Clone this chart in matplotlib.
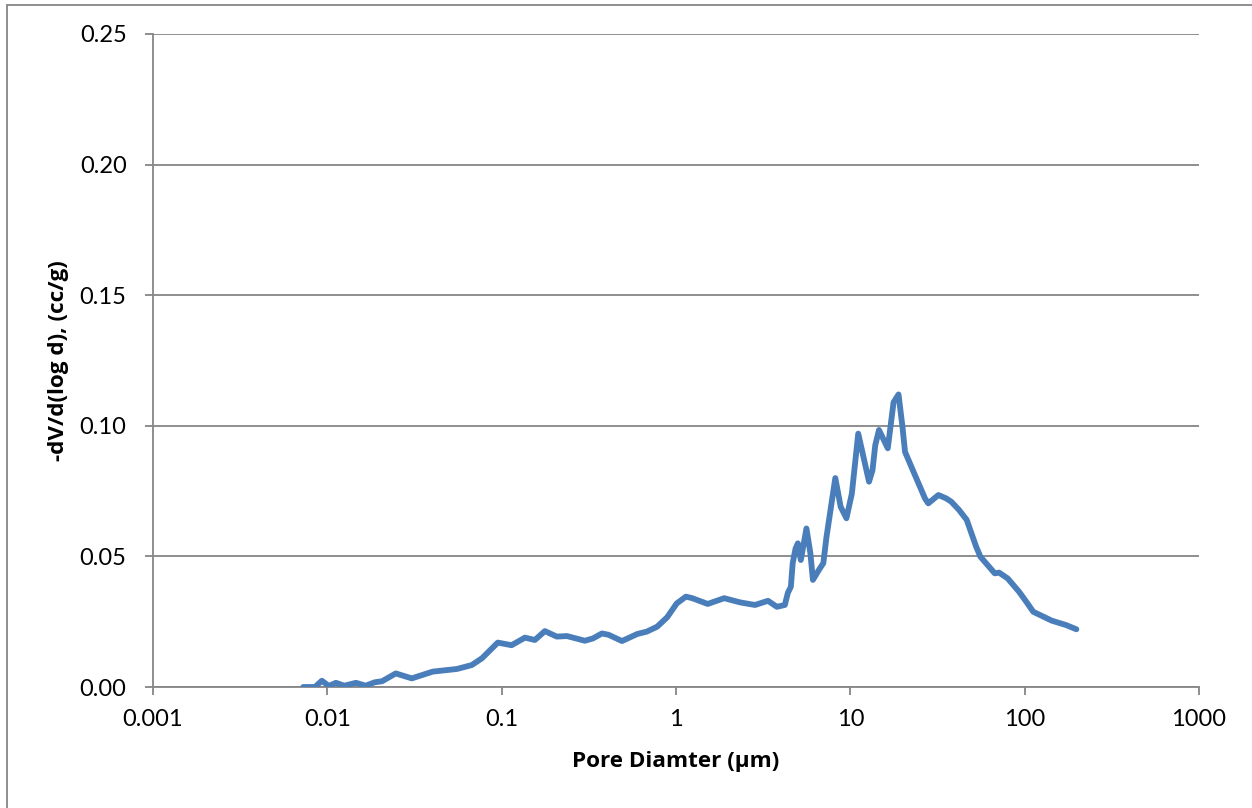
import numpy as np
import matplotlib.pyplot as plt
from matplotlib.patches import Rectangle

plt.rcParams['font.family'] = ['Lato', 'DejaVu Sans']

# pore diameter (um) and -dV/d(log d) (cc/g)
diameter = [0.00727, 0.0085, 0.0093, 0.0102, 0.0112, 0.0125, 0.0146, 0.0166, 0.0187, 0.0206,
            0.0247, 0.0305, 0.0403, 0.0554, 0.0674, 0.0771, 0.095, 0.114, 0.136, 0.155,
            0.177, 0.207, 0.237, 0.300, 0.334, 0.376, 0.41, 0.49, 0.60, 0.68,
            0.78, 0.89, 1.01, 1.14, 1.24, 1.52, 1.89, 2.33, 2.84, 3.37,
            3.79, 4.21, 4.38, 4.56, 4.67, 4.85, 5.0, 5.2, 5.6, 5.9,
            6.1, 6.6, 7.0, 7.3, 8.2, 8.8, 9.5, 10.2, 11.1, 12.8,
            13.4, 13.9, 14.6, 16.4, 17.7, 18.9, 19.9, 20.6, 22.4, 26.8,
            28.0, 32.0, 35.5, 38.0, 42.0, 46.5, 52.7, 55.7, 67.4, 71.3,
            79.8, 92.8, 102, 112, 143, 173, 198]
dvdlogd = [0.0, 0.0, 0.0024, 0.0004, 0.0016, 0.0005, 0.0016, 0.0005, 0.0018, 0.0022,
           0.0052, 0.0033, 0.0059, 0.0069, 0.0084, 0.011, 0.017, 0.016, 0.0189, 0.018,
           0.0214, 0.0193, 0.0195, 0.0177, 0.0186, 0.0205, 0.020, 0.0176, 0.0203, 0.0212,
           0.0231, 0.0267, 0.032, 0.0346, 0.034, 0.0318, 0.034, 0.0324, 0.0314, 0.033,
           0.0307, 0.0314, 0.036, 0.0384, 0.0474, 0.053, 0.055, 0.0486, 0.0607, 0.0512,
           0.041, 0.0448, 0.0474, 0.0575, 0.080, 0.069, 0.0646, 0.074, 0.097, 0.0786,
           0.083, 0.0926, 0.0984, 0.0914, 0.109, 0.112, 0.0997, 0.090, 0.0843, 0.0722,
           0.0703, 0.0735, 0.0722, 0.0709, 0.0678, 0.064, 0.0537, 0.0499, 0.0435, 0.0438,
           0.0416, 0.0365, 0.0327, 0.0288, 0.0254, 0.0237, 0.0221]

x_ticks = [0.001, 0.01, 0.1, 1, 10, 100, 1000]
x_labels = ['0.001', '0.01', '0.1', '1', '10', '100', '1000']
y_ticks = [0.0, 0.05, 0.10, 0.15, 0.20, 0.25]

fig = plt.figure(figsize=(12.52, 8.08), dpi=100)
# chart-area border, only left and top edges fall inside the picture
fig.patches.append(Rectangle((7 / 1252, -0.05), 1.2, 1 - 5 / 808 + 0.05, transform=fig.transFigure,
                             fill=False, edgecolor='#868686', linewidth=1.3))
ax = fig.add_axes([153 / 1252, 1 - 687 / 808, (1199 - 153) / 1252, (687 - 34) / 808])

ax.plot(diameter, dvdlogd, color='#4a7ebb', linewidth=4.2, solid_joinstyle='round',
        solid_capstyle='round', zorder=3)

ax.set_xscale('log')
ax.set_xlim(0.001, 1000)
ax.set_ylim(0, 0.25)
ax.set_xticks(x_ticks)
ax.set_xticklabels(x_labels)
ax.xaxis.set_minor_locator(plt.NullLocator())
ax.set_yticks(y_ticks)
ax.set_yticklabels([f'{v:.2f}' for v in y_ticks])

ax.grid(axis='y', color='#868686', linewidth=1.3)
ax.set_axisbelow(True)
for s in ['top', 'right']:
    ax.spines[s].set_visible(False)
for s in ['left', 'bottom']:
    ax.spines[s].set_color('#868686')
    ax.spines[s].set_linewidth(1.3)
ax.tick_params(axis='both', colors='#868686', labelcolor='black', labelsize=17,
               length=6, width=1.3, direction='out')
ax.tick_params(axis='x', pad=10)
ax.tick_params(axis='y', pad=13)

ax.set_xlabel('Pore Diamter (µm)', fontsize=16.2, fontweight='bold', family='Open Sans', labelpad=15)
ax.set_ylabel('-dV/d(log d), (cc/g)', fontsize=16.2, fontweight='bold', family='Open Sans', labelpad=8)

fig.savefig('out.png', dpi=100)
